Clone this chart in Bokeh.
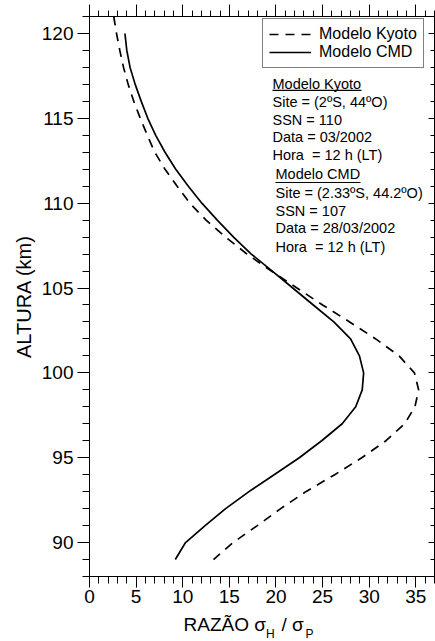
from bokeh.plotting import figure
from bokeh.layouts import column
from bokeh.models import (Range1d, LinearAxis, SingleIntervalTicker, Label,
                          Legend, LegendItem, CustomJSTickFormatter)
from bokeh.embed import file_html
from bokeh.resources import INLINE

# ---------------- data ----------------
alt_kyoto = [121, 120, 119, 118, 117, 116, 115, 114, 113, 112, 111, 110, 109, 108,
             107, 106, 105, 104, 103, 102, 101, 100, 99, 98, 97, 96, 95, 94, 93,
             92, 91, 90, 89]
ratio_kyoto = [2.6, 2.9, 3.25, 3.65, 4.15, 4.75, 5.45, 6.2, 7.0, 8.1, 9.4, 10.75,
               12.5, 14.6, 16.9, 19.5, 22.25, 25.0, 27.9, 30.7, 33.2, 34.85, 35.3,
               34.9, 33.8, 31.8, 29.2, 26.3, 23.2, 20.5, 18.0, 15.4, 13.3]

alt_cmd = [120, 119, 118, 117, 116, 115, 114, 113, 112, 111, 110, 109, 108, 107,
           106, 105, 104, 103, 102, 101, 100, 99, 98, 97, 96, 95, 94, 93, 92, 91,
           90, 89]
ratio_cmd = [3.8, 4.0, 4.35, 4.9, 5.55, 6.25, 7.1, 8.1, 9.25, 10.6, 12.05, 13.7,
             15.45, 17.35, 19.6, 21.8, 24.0, 26.2, 28.0, 28.95, 29.4, 29.25, 28.55,
             27.1, 24.9, 22.5, 19.8, 17.1, 14.6, 12.4, 10.3, 9.2]

series_names = ["Modelo Kyoto", "Modelo CMD"]
kyoto_info = ["Modelo Kyoto", "Site = (2ºS, 44ºO)", "SSN = 110", "Data = 03/2002",
              "Hora\u00a0 = 12 h (LT)"]
cmd_info = ["Modelo CMD", "Site = (2.33ºS, 44.2ºO)", "SSN = 107",
            "Data = 28/03/2002", "Hora\u00a0 = 12 h (LT)"]
y_label = "ALTURA (km)"
x_label_parts = ["RAZÃO σ", "H", "/ σ", "P"]

X_MIN, X_MAX = 0, 37
Y_MIN, Y_MAX = 88, 121

FONT = "Liberation Sans"

# ---------------- layout ----------------
W, H = 435, 611
H2 = 30
BL, BR, BT, BB = 89, 1, 16, 35
FX0 = BL
FX1 = W - BR
FY0 = BT
FY1 = H - BB


def dx(px):
    return X_MIN + (px - FX0) * (X_MAX - X_MIN) / (FX1 - FX0)


def dy(py):
    return Y_MAX - (py - FY0) * (Y_MAX - Y_MIN) / (FY1 - FY0)


p = figure(width=W, height=H, x_range=Range1d(X_MIN, X_MAX),
           y_range=Range1d(Y_MIN, Y_MAX), output_backend="svg",
           toolbar_location=None, min_border_left=BL, min_border_right=BR,
           min_border_top=BT, min_border_bottom=BB)
p.grid.visible = False
p.outline_line_color = None
p.background_fill_color = "white"
p.border_fill_color = "white"


def style_axis(ax, tick_out, minor_out, tick_in=0, minor_in=0, labels=True):
    ax.ticker = SingleIntervalTicker(interval=5, num_minor_ticks=5)
    ax.axis_line_color = "black"
    ax.axis_line_width = 1
    ax.major_tick_line_color = "black"
    ax.minor_tick_line_color = "black"
    ax.major_tick_line_width = 1
    ax.minor_tick_line_width = 1
    ax.major_tick_out = tick_out
    ax.major_tick_in = tick_in
    ax.minor_tick_out = minor_out
    ax.minor_tick_in = minor_in
    if labels:
        ax.major_label_text_font = FONT
        ax.major_label_text_font_size = "19px"
        ax.major_label_text_color = "black"
    else:
        ax.formatter = CustomJSTickFormatter(code="return ''")
        ax.major_label_text_font_size = "0px"
        ax.major_label_standoff = 0


xb = p.xaxis[0]
style_axis(xb, 11, 7)
xb.major_label_standoff = 2
yl = p.yaxis[0]
style_axis(yl, 12, 7)
yl.major_label_standoff = 4
yl.axis_label = y_label
yl.axis_label_text_font = FONT
yl.axis_label_text_font_size = "20px"
yl.axis_label_text_font_style = "normal"
yl.axis_label_text_color = "black"
yl.axis_label_standoff = 4

top = LinearAxis()
style_axis(top, 12, 6, labels=False)
p.add_layout(top, "above")
right = LinearAxis()
style_axis(right, 0, 0, tick_in=6, minor_in=4, labels=False)
p.add_layout(right, "right")

# ---------------- curves ----------------
r_kyoto = p.line(ratio_kyoto, alt_kyoto, line_color="black", line_width=1.7,
                 line_dash="9 7")
r_cmd = p.line(ratio_cmd, alt_cmd, line_color="black", line_width=1.7)

legend = Legend(items=[LegendItem(label=series_names[0], renderers=[r_kyoto]),
                       LegendItem(label=series_names[1], renderers=[r_cmd])],
                location=(262 - FX0, FY1 - 68), margin=0, padding=6, spacing=0,
                glyph_width=42, glyph_height=16, label_height=16,
                label_standoff=8, label_text_font=FONT,
                label_text_font_size="16px", label_text_color="black",
                border_line_color="black", border_line_width=1,
                background_fill_color="white", background_fill_alpha=1)
p.add_layout(legend, "center")

# ---------------- annotation block ----------------
k_y = [83.3, 101.7, 119.0, 136.7, 154.0]
c_y = [173.3, 192.3, 210.0, 227.7, 246.0]
for txt, yy in zip(kyoto_info, k_y):
    p.add_layout(Label(x=dx(272), y=dy(yy), text=txt, text_font=FONT,
                       text_font_size="14.5px", text_baseline="middle",
                       text_align="left", text_color="black"))
for txt, yy in zip(cmd_info, c_y):
    p.add_layout(Label(x=dx(275), y=dy(yy), text=txt, text_font=FONT,
                       text_font_size="14.5px", text_baseline="middle",
                       text_align="left", text_color="black"))
p.segment(x0=[dx(272), dx(275)], y0=[dy(89.8), dy(182.0)],
          x1=[dx(361), dx(360)], y1=[dy(89.8), dy(182.0)],
          line_color="black", line_width=1.2)

# ---------------- x-axis title strip (with subscripts) ----------------
# frame aligned with the main plot: data x == page px, data y == px from strip top
p2 = figure(width=W, height=H2, x_range=Range1d(FX0, FX1), y_range=Range1d(H2, 0),
            output_backend="svg", toolbar_location=None, min_border_left=BL,
            min_border_right=BR, min_border_top=0, min_border_bottom=0,
            x_axis_location=None, y_axis_location=None)
p2.grid.visible = False
p2.outline_line_color = None
p2.background_fill_color = "white"
p2.border_fill_color = "white"
MID = 624 - H
SUB = 633 - H
parts_x = [183, 265.5, 281, 305]
parts_y = [MID, SUB, MID, SUB]
parts_size = ["19px", "12px", "19px", "12px"]
for txt, xx, yy, sz in zip(x_label_parts, parts_x, parts_y, parts_size):
    p2.add_layout(Label(x=xx, y=yy, text=txt, text_font=FONT, text_font_size=sz,
                        text_baseline="middle", text_align="left",
                        text_color="black"))

layout = column(p, p2, spacing=0)
open("out.html", "w").write(file_html(layout, INLINE))
